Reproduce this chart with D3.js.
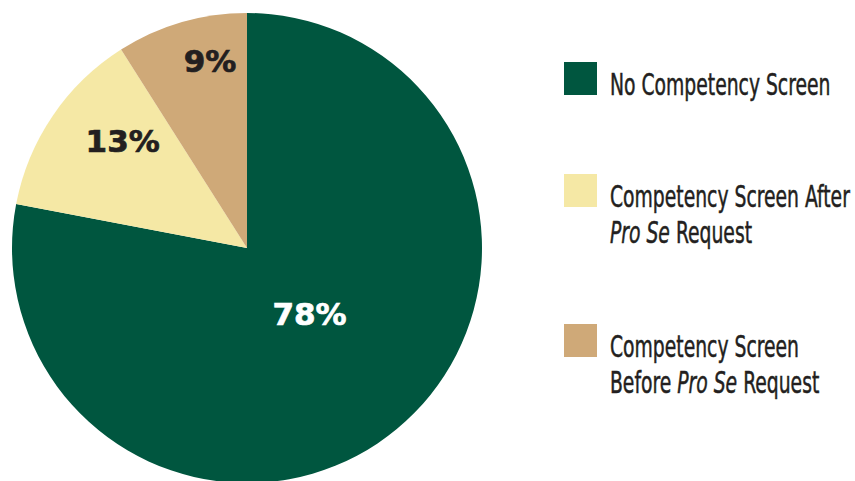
<!DOCTYPE html>
<html>
<head>
<meta charset="utf-8">
<script src="https://cdn.jsdelivr.net/npm/d3@7"></script>
<style>
  html, body { margin: 0; padding: 0; background: #ffffff; }
  svg { display: block; }
</style>
</head>
<body>
<svg id="chart" width="855" height="481"></svg>
<script>
// ---- data ----
const categories = ["No Competency Screen", "Competency Screen After Pro Se Request", "Competency Screen Before Pro Se Request"];
const values = [78, 13, 9];
const valueLabels = ["78%", "13%", "9%"];
// legend lines: each line is a list of [text, italic?]
const legendLines = [
  [[["No Competency Screen", false]]],
  [[["Competency Screen After", false]], [["Pro Se", true], [" Request", false]]],
  [[["Competency Screen", false]], [["Before ", false], ["Pro Se", true], [" Request", false]]]
];
const colors = ["#00563f", "#f5e8a5", "#cfa978"];

// ---- layout ----
const svg = d3.select("#chart");
const cx = 247, cy = 248, R = 235;

const pie = d3.pie().sort(null).value(d => d).startAngle(0).endAngle(2 * Math.PI);
const arcs = pie(values);
const arc = d3.arc().innerRadius(0).outerRadius(R);

const g = svg.append("g").attr("transform", `translate(${cx},${cy})`);
g.selectAll("path.slice")
  .data(arcs)
  .join("path")
  .attr("class", "slice")
  .attr("d", arc)
  .attr("fill", (d, i) => colors[i]);

// label placement tweaks (radius and angle nudge in degrees)
const labelPlace = [{ r: 91, da: -3.8 }, { r: 164, da: 6.5 }, { r: 190.6, da: 5 }];
g.selectAll("text.pct")
  .data(arcs)
  .join("text")
  .attr("class", "pct")
  .attr("transform", (d, i) => {
    const a = (d.startAngle + d.endAngle) / 2 + labelPlace[i].da * Math.PI / 180;
    const r = labelPlace[i].r;
    return `translate(${r * Math.sin(a)},${-r * Math.cos(a)})`;
  })
  .attr("text-anchor", "middle")
  .attr("dy", "0.36em")
  .attr("font-family", "'DejaVu Sans', sans-serif")
  .attr("font-weight", "bold")
  .attr("font-size", 31)
  .attr("fill", (d, i) => i === 0 ? "#ffffff" : "#231f20")
  .attr("stroke", (d, i) => i === 0 ? "#ffffff" : "#231f20")
  .attr("stroke-width", 0.7)
  .text((d, i) => valueLabels[i]);

// ---- legend ----
const legendTop = [62, 174, 324];
const sw = 33, lx = 564, tx = 610, lineH = 36;
const lg = svg.append("g").attr("class", "legend");
categories.forEach((c, i) => {
  lg.append("rect")
    .attr("x", lx).attr("y", legendTop[i])
    .attr("width", sw).attr("height", sw)
    .attr("fill", colors[i]);
  legendLines[i].forEach((line, j) => {
    const t = lg.append("text")
      .attr("class", "ltext")
      .attr("x", 0)
      .attr("y", legendTop[i] + sw + j * lineH)
      .attr("font-family", "'Liberation Sans Narrow', 'DejaVu Sans Condensed', 'Roboto', sans-serif")
      .attr("font-size", 31)
      .attr("fill", "#231f20")
      .attr("stroke", "#231f20")
      .attr("stroke-width", 0.5);
    line.forEach(([s, it]) => {
      t.append("tspan").attr("font-style", it ? "italic" : "normal").text(s);
    });
  });
});
// horizontally condense legend text to match the reference's condensed face
const ref = lg.selectAll("text.ltext").filter(function () { return this.textContent === "Competency Screen After"; }).node();
const w = ref.getComputedTextLength();
const k = 240 / w;
lg.selectAll("text.ltext").attr("transform", `translate(${tx},0) scale(${k},1)`);
</script>
</body>
</html>
